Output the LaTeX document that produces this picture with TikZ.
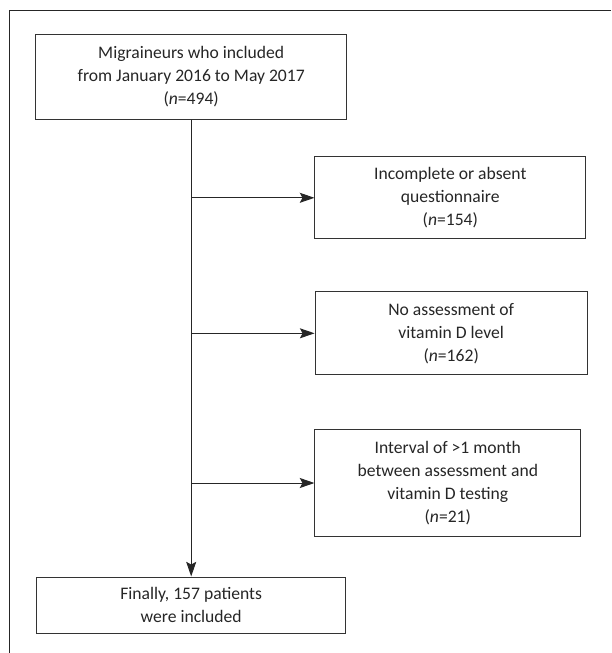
\documentclass[tikz,border=0pt]{standalone}
\usepackage{fontspec}
\setmainfont{Carlito}
\usetikzlibrary{arrows.meta,positioning}
\begin{document}
\begin{tikzpicture}[
    x=0.75pt, y=-0.75pt,
    >={Stealth[length=11pt,width=7.5pt,inset=2pt]},
    font=\fontsize{13.2}{17.25}\selectfont,
    box/.style={rectangle, draw=black!80, line width=0.75pt, align=center,
                inner sep=0pt, text=black!85},
    arr/.style={->, line width=0.75pt, draw=black!85, fill=black!85},
    frame/.style={line width=0.75pt, draw=black!85}
]
\useasboundingbox (0,0) rectangle (611,653);
% Outer frame: only the top and the left edge show
\draw[frame] (611,10.5) -- (9,10.5) -- (9,653);

% Main column
\node[box, minimum width=233.25pt, minimum height=63.5pt] (start) at (191.2,76.7)
     {Migraineurs who included\\from January 2016 to May 2017\\(\textit{n}=494)};
\node[box, minimum width=231.75pt, minimum height=42pt] (final) at (191.2,605)
     {Finally, 157 patients\\were included};

% Exclusion boxes on the right
\node[box, minimum width=203pt, minimum height=61.7pt] (quest) at (450.3,197.8)
     {Incomplete or absent\\questionnaire\\(\textit{n}=154)};
\node[box, minimum width=204.2pt, minimum height=62pt] (vitd) at (451.2,333.3)
     {No assessment of\\vitamin D level\\(\textit{n}=162)};
\node[box, minimum width=199.3pt, minimum height=80.5pt] (interval) at (447.8,483)
     {Interval of >1 month\\between assessment and\\vitamin D testing\\(\textit{n}=21)};

% Trunk down to the final box
\draw[arr] (start.south) -- (final.north);

% Branches off the trunk
\draw[arr] (start.south |- quest.west) -- (quest.west);
\draw[arr] (start.south |- vitd.west) -- (vitd.west);
\draw[arr] (start.south |- interval.west) -- (interval.west);
\end{tikzpicture}
\end{document}
